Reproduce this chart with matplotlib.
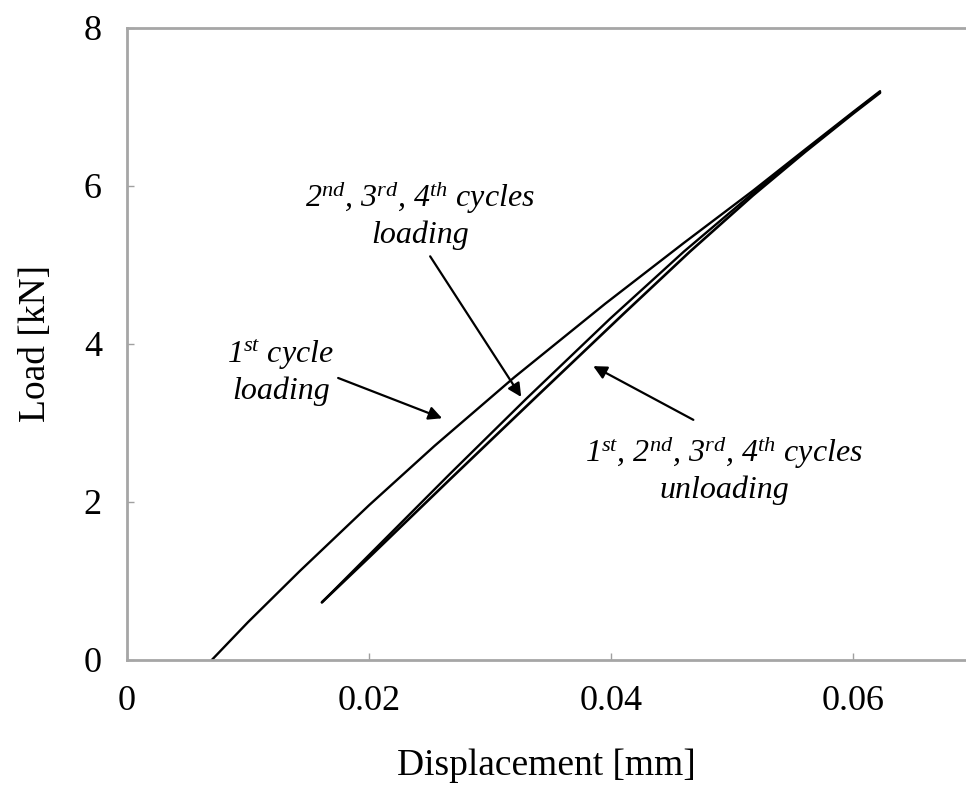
import matplotlib
matplotlib.use("Agg")
import matplotlib.pyplot as plt

plt.rcParams['font.family'] = ['Liberation Serif', 'DejaVu Serif']
plt.rcParams['mathtext.fontset'] = 'custom'
plt.rcParams['mathtext.rm'] = 'Liberation Serif:italic'
plt.rcParams['mathtext.it'] = 'Liberation Serif:italic'
plt.rcParams['mathtext.default'] = 'it'

# Data
load1_x = [0.0070, 0.0100, 0.0143, 0.0200, 0.0254, 0.0320, 0.0395, 0.0460, 0.0517, 0.0560, 0.0600, 0.0622]
load1_y = [0.00, 0.48, 1.13, 1.96, 2.71, 3.58, 4.51, 5.28, 5.94, 6.46, 6.94, 7.20]

reload_x = [0.0161, 0.0200, 0.0267, 0.0330, 0.0399, 0.0460, 0.0517, 0.0560, 0.0600, 0.0622]
reload_y = [0.73, 1.33, 2.36, 3.31, 4.32, 5.17, 5.91, 6.44, 6.93, 7.19]

unload_x = [0.0622, 0.0600, 0.0560, 0.0517, 0.0465, 0.0410, 0.0340, 0.0267, 0.0200, 0.0161]
unload_y = [7.18, 6.92, 6.43, 5.88, 5.17, 4.38, 3.36, 2.29, 1.30, 0.73]

x_ticks = [0, 0.02, 0.04, 0.06]
x_tick_labels = ['0', '0.02', '0.04', '0.06']
y_ticks = [0, 2, 4, 6, 8]
y_tick_labels = ['0', '2', '4', '6', '8']

fig = plt.figure(figsize=(9.66, 7.86), dpi=100)
ax = fig.add_axes([127/966, 126/786, 1 - 127/966, (660-28)/786])

ax.plot(load1_x, load1_y, color='black', lw=1.7, solid_capstyle='round', solid_joinstyle='round')
ax.plot(reload_x, reload_y, color='black', lw=1.7, solid_capstyle='round', solid_joinstyle='round')
ax.plot(unload_x, unload_y, color='black', lw=1.9, solid_capstyle='round', solid_joinstyle='round')

ax.set_xlim(0, 0.0693)
ax.set_ylim(0, 8)
ax.set_xticks(x_ticks)
ax.set_xticklabels(x_tick_labels)
ax.set_yticks(y_ticks)
ax.set_yticklabels(y_tick_labels)
ax.tick_params(direction='in', length=5, width=1, colors='#a0a0a0', labelcolor='black',
               labelsize=26, pad=18)

for s in ['left', 'bottom', 'top']:
    ax.spines[s].set_color('#a6a6a6')
    ax.spines[s].set_linewidth(2)
ax.spines['right'].set_visible(False)

ax.set_xlabel('Displacement [mm]', fontsize=27, labelpad=22)
ax.set_ylabel('Load [kN]', fontsize=27, labelpad=22)

tfs = 23
ax.text(0.0242, 5.64, r'$\mathit{2^{nd}}$, $\mathit{3^{rd}}$, $\mathit{4^{th}}$ cycles' + '\nloading',
        fontsize=tfs, style='italic', ha='center', va='center', multialignment='center', linespacing=1.2)
ax.text(0.0127, 3.65, r'$\mathit{1^{st}}$ cycle' + '\nloading', fontsize=tfs,
        style='italic', ha='center', va='center', multialignment='center', linespacing=1.2)
ax.text(0.0493, 2.41, r'$\mathit{1^{st}}$, $\mathit{2^{nd}}$, $\mathit{3^{rd}}$, $\mathit{4^{th}}$ cycles' + '\nunloading',
        fontsize=tfs, style='italic', ha='center', va='center', multialignment='center', linespacing=1.2)

aprops = dict(arrowstyle='-|>', color='black', lw=1.6, mutation_scale=20, shrinkA=0, shrinkB=0)
ax.annotate('', xy=(0.02603, 3.06), xytext=(0.01744, 3.57), arrowprops=aprops)
ax.annotate('', xy=(0.03256, 3.33), xytext=(0.02504, 5.11), arrowprops=aprops)
ax.annotate('', xy=(0.03851, 3.72), xytext=(0.04678, 3.04), arrowprops=aprops)

fig.savefig('out.png', dpi=100)
